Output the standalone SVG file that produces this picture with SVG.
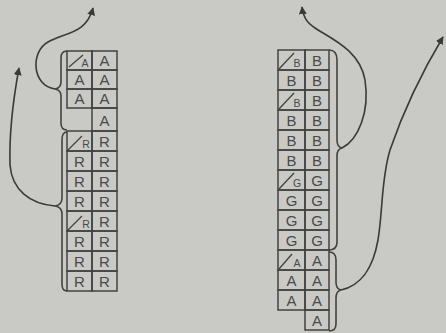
<svg xmlns="http://www.w3.org/2000/svg" width="446" height="333" viewBox="0 0 446 333">
<style>
.c{fill:none;stroke:#424242;stroke-width:1.5}
.t{font-family:"Liberation Sans",Arial,sans-serif;font-size:15px;fill:#4a4a4a;text-anchor:middle}
.s{font-family:"Liberation Sans",Arial,sans-serif;font-size:10.5px;fill:#4a4a4a;text-anchor:middle}
.sl{stroke:#424242;stroke-width:1.3;fill:none}
.br{fill:none;stroke:#424242;stroke-width:1.6}
.ar{fill:none;stroke:#3a3a3a;stroke-width:1.6}
</style>
<defs>
<marker id="ah" viewBox="0 0 10 10" refX="9" refY="5" markerWidth="8" markerHeight="8" markerUnits="userSpaceOnUse" orient="auto">
<path d="M0,0 L10,5 L0,10 Z" fill="#3a3a3a"/>
</marker>
</defs>
<rect width="446" height="333" fill="#c9c9c5"/>

<g id="left-A-block">
<rect class="c" x="67" y="51" width="25" height="19"/><rect class="c" x="92" y="51" width="25" height="19"/>
<rect class="c" x="67" y="70" width="25" height="19"/><rect class="c" x="92" y="70" width="25" height="19"/>
<rect class="c" x="67" y="89" width="25" height="19"/><rect class="c" x="92" y="89" width="25" height="19"/>
<rect class="c" x="92" y="108" width="25" height="23"/>
<line class="sl" x1="69" y1="67" x2="83" y2="55"/>
<text class="s" x="85" y="67">A</text><text class="t" x="104.5" y="66">A</text>
<text class="t" x="79.5" y="85">A</text><text class="t" x="104.5" y="85">A</text>
<text class="t" x="79.5" y="104">A</text><text class="t" x="104.5" y="104">A</text>
<text class="t" x="104.5" y="125.5">A</text>
</g>

<g id="left-R-block">
<rect class="c" x="67" y="131" width="25" height="20"/><rect class="c" x="92" y="131" width="25" height="20"/>
<rect class="c" x="67" y="151" width="25" height="20"/><rect class="c" x="92" y="151" width="25" height="20"/>
<rect class="c" x="67" y="171" width="25" height="20"/><rect class="c" x="92" y="171" width="25" height="20"/>
<rect class="c" x="67" y="191" width="25" height="20"/><rect class="c" x="92" y="191" width="25" height="20"/>
<rect class="c" x="67" y="211" width="25" height="20"/><rect class="c" x="92" y="211" width="25" height="20"/>
<rect class="c" x="67" y="231" width="25" height="20"/><rect class="c" x="92" y="231" width="25" height="20"/>
<rect class="c" x="67" y="251" width="25" height="20"/><rect class="c" x="92" y="251" width="25" height="20"/>
<rect class="c" x="67" y="271" width="25" height="20"/><rect class="c" x="92" y="271" width="25" height="20"/>
<line class="sl" x1="68" y1="150" x2="82" y2="136"/>
<line class="sl" x1="68" y1="230" x2="82" y2="216"/>
<text class="s" x="86" y="148">R</text><text class="t" x="104.5" y="147">R</text>
<text class="t" x="79.5" y="167">R</text><text class="t" x="104.5" y="167">R</text>
<text class="t" x="79.5" y="187">R</text><text class="t" x="104.5" y="187">R</text>
<text class="t" x="79.5" y="207">R</text><text class="t" x="104.5" y="207">R</text>
<text class="s" x="86" y="228">R</text><text class="t" x="104.5" y="227">R</text>
<text class="t" x="79.5" y="247">R</text><text class="t" x="104.5" y="247">R</text>
<text class="t" x="79.5" y="267">R</text><text class="t" x="104.5" y="267">R</text>
<text class="t" x="79.5" y="287">R</text><text class="t" x="104.5" y="287">R</text>
</g>

<g id="right-B-block">
<rect class="c" x="278" y="50" width="27" height="20"/><rect class="c" x="305" y="50" width="24" height="20"/>
<rect class="c" x="278" y="70" width="27" height="20"/><rect class="c" x="305" y="70" width="24" height="20"/>
<rect class="c" x="278" y="90" width="27" height="20"/><rect class="c" x="305" y="90" width="24" height="20"/>
<rect class="c" x="278" y="110" width="27" height="20"/><rect class="c" x="305" y="110" width="24" height="20"/>
<rect class="c" x="278" y="130" width="27" height="20"/><rect class="c" x="305" y="130" width="24" height="20"/>
<rect class="c" x="278" y="150" width="27" height="20"/><rect class="c" x="305" y="150" width="24" height="20"/>
<line class="sl" x1="279" y1="69" x2="294" y2="53"/>
<line class="sl" x1="279" y1="109" x2="294" y2="93"/>
<text class="s" x="297" y="67">B</text><text class="t" x="317" y="66">B</text>
<text class="t" x="291.5" y="86">B</text><text class="t" x="317" y="86">B</text>
<text class="s" x="297" y="107">B</text><text class="t" x="317" y="106">B</text>
<text class="t" x="291.5" y="126">B</text><text class="t" x="317" y="126">B</text>
<text class="t" x="291.5" y="146">B</text><text class="t" x="317" y="146">B</text>
<text class="t" x="291.5" y="166">B</text><text class="t" x="317" y="166">B</text>
</g>

<g id="right-G-block">
<rect class="c" x="278" y="170" width="27" height="20"/><rect class="c" x="305" y="170" width="24" height="20"/>
<rect class="c" x="278" y="190" width="27" height="20"/><rect class="c" x="305" y="190" width="24" height="20"/>
<rect class="c" x="278" y="210" width="27" height="20"/><rect class="c" x="305" y="210" width="24" height="20"/>
<rect class="c" x="278" y="230" width="27" height="20"/><rect class="c" x="305" y="230" width="24" height="20"/>
<line class="sl" x1="279" y1="189" x2="294" y2="173"/>
<text class="s" x="297" y="187">G</text><text class="t" x="317" y="186">G</text>
<text class="t" x="291.5" y="206">G</text><text class="t" x="317" y="206">G</text>
<text class="t" x="291.5" y="226">G</text><text class="t" x="317" y="226">G</text>
<text class="t" x="291.5" y="246">G</text><text class="t" x="317" y="246">G</text>
</g>

<g id="right-A-block">
<rect class="c" x="278" y="250" width="27" height="20"/><rect class="c" x="305" y="250" width="24" height="20"/>
<rect class="c" x="278" y="270" width="27" height="20"/><rect class="c" x="305" y="270" width="24" height="20"/>
<rect class="c" x="278" y="290" width="27" height="20"/><rect class="c" x="305" y="290" width="24" height="20"/>
<rect class="c" x="305" y="310" width="24" height="20"/>
<line class="sl" x1="279" y1="269" x2="292" y2="254"/>
<text class="s" x="297" y="267">A</text><text class="t" x="317" y="266">A</text>
<text class="t" x="291.5" y="286">A</text><text class="t" x="317" y="286">A</text>
<text class="t" x="291.5" y="306">A</text><text class="t" x="317" y="306">A</text>
<text class="t" x="317" y="326">A</text>
</g>

<g id="braces">
<path class="br" d="M67,51 Q61,51 61,58 L61,82 Q61,88 55,89 Q61,90 61,96 L61,123 Q61,130 67,130"/>
<path class="br" d="M67,132 Q62,132 62,140 L62,198 Q62,205 55,206 Q62,207 62,214 L62,284 Q62,291 67,291"/>
<path class="br" d="M329,50 Q337,50 337,60 L337,140 Q337,147 342,148 Q337,149 337,156 L337,242 Q337,250 329,250"/>
<path class="br" d="M329,252 Q336,252 336,260 L336,282 Q336,289 341,290 Q336,291 336,298 L336,324 Q336,331 329,331"/>
</g>

<g id="connectors">
<path class="ar" marker-end="url(#ah)" d="M55,89 C32,86 30,52 48,42 C66,32 86,34 93,8"/>
<path class="ar" marker-end="url(#ah)" d="M55,206 C30,204 12,190 10,165 C9,130 14,95 19,68"/>
<path class="ar" marker-end="url(#ah)" d="M342,148 C358,140 370,112 365,80 C360,50 330,38 315,28 C306,22 303,16 302,7"/>
<path class="ar" marker-end="url(#ah)" d="M341,290 C362,285 373,268 378,240 C383,210 381,180 390,150 C403,112 422,72 443,37"/>
</g>
</svg>
